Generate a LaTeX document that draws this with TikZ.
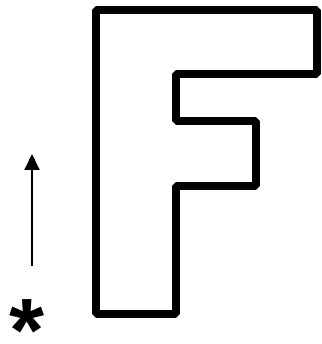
\documentclass[tikz,border=0pt]{standalone}
\usepackage{fontspec}
\setmainfont{Liberation Sans}
\usetikzlibrary{arrows.meta}
\begin{document}
\begin{tikzpicture}[x=1pt,y=-1pt,
  fshape/.style={draw=black,line width=8pt,line join=bevel},
  uparrow/.style={draw=black,line width=2pt,-{Triangle[width=15pt,length=16pt]}},
  star/.style={inner sep=0pt,font=\fontsize{90}{90}\selectfont\bfseries}]
\useasboundingbox (0,0) rectangle (321,344);
\draw[fshape] (96,10) -- (317,10) -- (317,74) -- (176,74) -- (176,121) -- (256,121) -- (256,186) -- (176,186) -- (176,314) -- (96,314) -- cycle;
\coordinate (a0) at (32,266);
\coordinate (a1) at (32,154);
\draw[uparrow] (a0) -- (a1);
\begin{scope}
\clip (0,0) rectangle (321,344);
\node[star] (s) at (27,361) [anchor=base] {*};
\end{scope}
\end{tikzpicture}
\end{document}
